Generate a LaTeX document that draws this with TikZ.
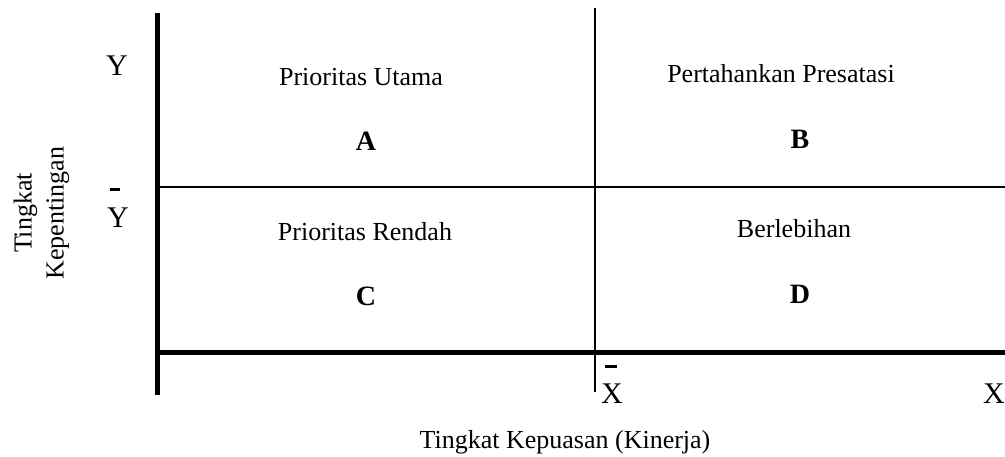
\documentclass[tikz,border=0pt]{standalone}
\usepackage{fontspec}
\setmainfont{Liberation Serif}
\begin{document}
\begin{tikzpicture}[x=1pt,y=-1pt,
  thickaxis/.style={line width=5pt},
  thinline/.style={line width=1.6pt},
  qlabel/.style={anchor=base,inner sep=0pt,font=\fontsize{26}{31}\selectfont},
  qletter/.style={anchor=base,inner sep=0pt,font=\fontsize{28}{32}\selectfont\bfseries},
  axlabel/.style={anchor=base,inner sep=0pt,font=\fontsize{30}{34}\selectfont},
  barmark/.style={line width=3pt}]
\useasboundingbox (0,0) rectangle (1005,456);
% coordinates
\coordinate (ytop) at (157,13);
\coordinate (ybot) at (157,395);
\coordinate (xl) at (155,352);
\coordinate (xr) at (1005,352);
\coordinate (mtop) at (595,8);
\coordinate (mbot) at (595,392);
\coordinate (hl) at (157,187);
\coordinate (hr) at (1005,187);
% lines
\draw[thinline] (hl) -- (hr);
\draw[thinline] (mtop) -- (mbot);
\draw[thickaxis] (ytop) -- (ybot);
\draw[thickaxis] (xl) -- (xr);
% quadrant labels
\node[qlabel] (pu) at (361,85) {Prioritas Utama};
\node[qletter] (a) at (366,150) {A};
\node[qlabel] (pp) at (781,82) {Pertahankan Presatasi};
\node[qletter] (b) at (800,148) {B};
\node[qlabel] (pr) at (365,240) {Prioritas Rendah};
\node[qletter] (c) at (366,305) {C};
\node[qlabel] (bl) at (794,237) {Berlebihan};
\node[qletter] (d) at (800,303) {D};
% axis labels
\node[axlabel] (y) at (117,75) {Y};
\node[axlabel] (ybar) at (118,227) {Y};
\coordinate (yb1) at (110,189);
\coordinate (yb2) at (120,189);
\draw[barmark] (yb1) -- (yb2);
\node[axlabel] (xbar) at (612,403) {X};
\coordinate (xb1) at (605,366);
\coordinate (xb2) at (617,366);
\draw[barmark] (xb1) -- (xb2);
\node[axlabel] (x) at (994,403) {X};
% axis titles
\node[qlabel] (xt) at (565,448) {Tingkat Kepuasan (Kinerja)};
\node[rotate=90,align=center,inner sep=0pt,font=\fontsize{26}{32}\selectfont] (yt) at (41.5,213) {Tingkat\\Kepentingan};
\end{tikzpicture}
\end{document}
